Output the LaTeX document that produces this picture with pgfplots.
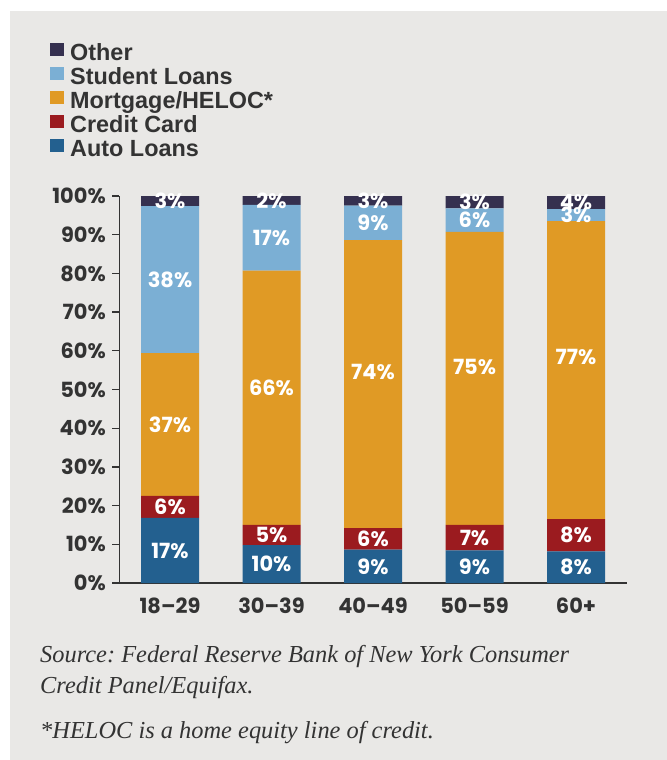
\documentclass[border=0pt]{standalone}
\usepackage{fontspec}
\usepackage{pgfplots}
\usepackage{pgfplotstable}
\pgfplotsset{compat=1.18}
\newfontfamily\legfont{Liberation Sans}
\newfontfamily\popfont{Poppins}
\newfontfamily\capfont{Liberation Serif}
\definecolor{panel}{HTML}{E9E8E6}
\definecolor{txt}{HTML}{333333}
\definecolor{cOther}{HTML}{35304F}
\definecolor{cStud}{HTML}{7BAFD4}
\definecolor{cMort}{HTML}{E09A25}
\definecolor{cCC}{HTML}{9B1B1F}
\definecolor{cAuto}{HTML}{23608F}

% segment heights, lab = printed share, dy = label nudge
\pgfplotstableread{
x y lab dy
0 16.8 17 0
1 9.8 10 0
2 8.6 9 0
3 8.4 9 0
4 8.2 8 0
}\auto
\pgfplotstableread{
x y lab dy
0 5.7 6 0
1 5.2 5 0
2 5.6 6 0
3 6.6 7 0
4 8.3 8 0
}\credit
\pgfplotstableread{
x y lab dy
0 36.9 37 0
1 65.7 66 2.5
2 74.4 74 3.1
3 75.7 75 3.0
4 77.0 77 3.4
}\mortgage
\pgfplotstableread{
x y lab dy
0 38.0 38 0
1 17.0 17 0
2 8.9 9 0
3 6.1 6 0
4 3.1 3 0
}\student
\pgfplotstableread{
x y lab dy
0 2.6 3 0
1 2.3 2 0
2 2.5 3 0
3 3.2 3 0
4 3.4 4 0
}\other

\frenchspacing
\begin{document}
\begin{tikzpicture}
\useasboundingbox (0,0) rectangle (667bp,-760bp);
\fill[white] (0,0) rectangle (667bp,-760bp);
\fill[panel] (10bp,-11bp) rectangle (667bp,-760bp);

\begin{axis}[
    at={(119.25bp,-583bp)}, anchor=south west,
    scale only axis, width=507.5bp, height=387bp,
    ybar stacked, bar width=58bp,
    xmin=-0.5, xmax=4.5, ymin=0, ymax=100,
    axis x line=bottom, axis y line=left,
    axis line style={txt, line width=1.3bp, -},
    xtick={0,1,2,3,4},
    xticklabels={18–29,30–39,40–49,50–59,60+},
    x tick style={draw=none},
    xticklabel style={yshift=-4bp},
    ytick={0,10,...,100},
    yticklabel={\pgfmathprintnumber{\tick}\%},
    yticklabel style={xshift=-3bp},
    /pgf/number format/assume math mode=true,
    y tick style={txt, line width=1.3bp},
    tick align=outside, major tick length=7bp,
    ticklabel style={font=\popfont\bfseries\fontsize{21}{24}\selectfont, text=txt},
    point meta=explicit symbolic,
    nodes near coords={\pgfplotspointmeta\%},
    visualization depends on={\thisrow{dy} \as \dy},
    every node near coord/.append style={font=\popfont\bfseries\fontsize{21}{24}\selectfont,
        text=white, anchor=center, inner sep=0pt,
        shift={(axis direction cs:0,\dy)}},
    legend style={at={(axis description cs:-0.1365,1.395)}, anchor=north west,
        draw=none, fill=none, inner sep=0pt, row sep=0pt, column sep=6bp,
        font=\legfont\bfseries\fontsize{23.5}{24}\selectfont, text=txt,
        nodes={inner sep=0pt, text height=17bp, text depth=7bp}},
    legend cell align=left, reverse legend,
    legend image code/.code={\fill[#1] (0bp,-1bp) rectangle (14bp,12bp);},
]
\addplot[fill=cAuto, draw=none] table[x=x, y=y, meta=lab] {\auto};
\addlegendentry{Auto Loans}
\addplot[fill=cCC, draw=none] table[x=x, y=y, meta=lab] {\credit};
\addlegendentry{Credit Card}
\addplot[fill=cMort, draw=none] table[x=x, y=y, meta=lab] {\mortgage};
\addlegendentry{Mortgage/HELOC*}
\addplot[fill=cStud, draw=none] table[x=x, y=y, meta=lab] {\student};
\addlegendentry{Student Loans}
\addplot[fill=cOther, draw=none] table[x=x, y=y, meta=lab] {\other};
\addlegendentry{Other}
\end{axis}

\begin{scope}[every node/.style={anchor=base west, inner sep=0pt, text=txt,
      font=\capfont\itshape\fontsize{24.5}{31}\selectfont}]
\node at (40bp,-662bp) {Source: Federal Reserve Bank of New York Consumer};
\node at (40bp,-693bp) {Credit Panel/Equifax.};
\node at (40bp,-738bp) {*HELOC is a home equity line of credit.};
\end{scope}
\end{tikzpicture}
\end{document}
